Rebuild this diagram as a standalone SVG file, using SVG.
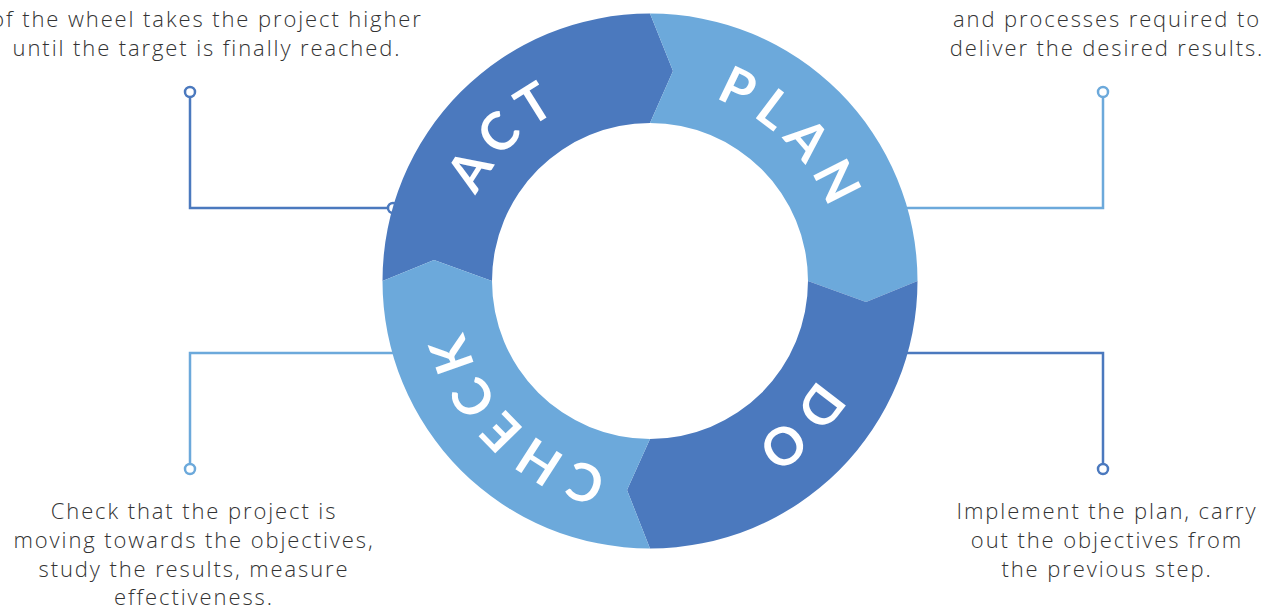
<svg xmlns="http://www.w3.org/2000/svg" width="1268" height="607" viewBox="0 0 1268 607">
<defs>
<style>
.dark{fill:#4B79BE}
.light{fill:#6CA9DB}
.cd{fill:none;stroke:#4B79BE;stroke-width:2.5}
.cl{fill:none;stroke:#6CA9DB;stroke-width:2.5}
.dot{fill:#fff}
.body{font-family:"Open Sans","Liberation Sans",sans-serif;font-weight:300;font-size:22px;letter-spacing:1.9px;fill:#333;text-anchor:middle}
.lab{font-family:Lato,"Liberation Sans",sans-serif;font-weight:700;font-size:52px;fill:#fff;letter-spacing:9px}
</style>
<path id="pAct" d="M456.5,281 A193.5,193.5 0 0 1 650,87.5"/>
<path id="pPlan" d="M650,87.5 A193.5,193.5 0 0 1 843.5,281"/>
<path id="pDo" d="M843.5,281 A193.5,193.5 0 0 1 650,474.5"/>
<path id="pCheck" d="M650,474.5 A193.5,193.5 0 0 1 456.5,281"/>
</defs>
<g id="connectors">
<path class="cd" d="M190,97 V208 H393"/>
<circle class="cd dot" cx="190" cy="92" r="5"/>
<circle class="cd dot" cx="393" cy="208" r="5"/>
<path class="cl" d="M1103,97 V208 H905"/>
<circle class="cl dot" cx="1103" cy="92" r="5"/>
<path class="cl" d="M190,464 V353 H395"/>
<circle class="cl dot" cx="190" cy="469" r="5"/>
<path class="cd" d="M1103,464 V353 H905"/>
<circle class="cd dot" cx="1103" cy="469" r="5"/>
</g>
<g id="act">
<path class="dark" d="M382.5,281 A267.5,267.5 0 0 1 650,13.5 L673,71 L650,123 A158,158 0 0 0 492,281 L434,260 Z"/>
<text class="lab"><textPath href="#pAct" startOffset="50%" text-anchor="middle">ACT</textPath></text>
</g>
<g id="plan">
<path class="light" d="M650,13.5 A267.5,267.5 0 0 1 917.5,281 L866,302 L808,281 A158,158 0 0 0 650,123 L673,71 Z"/>
<text class="lab"><textPath href="#pPlan" startOffset="50%" text-anchor="middle">PLAN</textPath></text>
</g>
<g id="do">
<path class="dark" d="M917.5,281 A267.5,267.5 0 0 1 650,548.5 L627,490 L650,439 A158,158 0 0 0 808,281 L866,302 Z"/>
<text class="lab"><textPath href="#pDo" startOffset="50%" text-anchor="middle">DO</textPath></text>
</g>
<g id="check">
<path class="light" d="M650,548.5 A267.5,267.5 0 0 1 382.5,281 L434,260 L492,281 A158,158 0 0 0 650,439 L627,490 Z"/>
<text class="lab"><textPath href="#pCheck" startOffset="50%" text-anchor="middle">CHECK</textPath></text>
</g>
<g id="text-act">
<text class="body" x="207" y="27">of the wheel takes the project higher</text>
<text class="body" x="207" y="56">until the target is finally reached.</text>
</g>
<g id="text-plan">
<text class="body" x="1107" y="27">and processes required to</text>
<text class="body" x="1107" y="56">deliver the desired results.</text>
</g>
<g id="text-check">
<text class="body" x="194" y="519">Check that the project is</text>
<text class="body" x="194" y="548">moving towards the objectives,</text>
<text class="body" x="194" y="577">study the results, measure</text>
<text class="body" x="194" y="605">effectiveness.</text>
</g>
<g id="text-do">
<text class="body" x="1107" y="519">Implement the plan, carry</text>
<text class="body" x="1107" y="548">out the objectives from</text>
<text class="body" x="1107" y="577">the previous step.</text>
</g>
</svg>
